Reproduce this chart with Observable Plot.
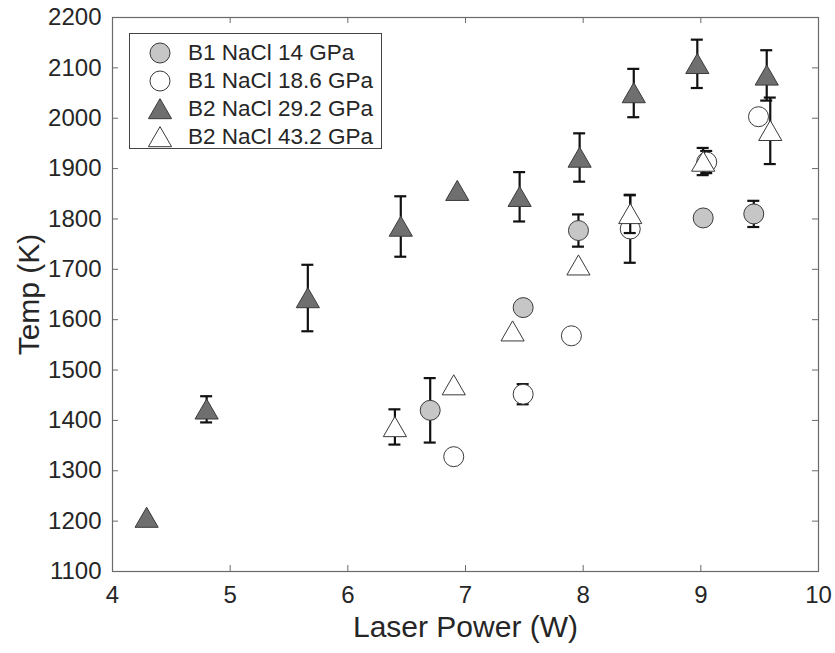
<!DOCTYPE html>
<html>
<head>
<meta charset="utf-8">
<script src="https://cdn.jsdelivr.net/npm/d3@7"></script>
<script src="https://cdn.jsdelivr.net/npm/@observablehq/plot@0.6"></script>
<style>
  body { margin: 0; background: #fff; }
  #chart { position: relative; width: 835px; height: 653px; font-family: "Liberation Sans", Arial, Helvetica, sans-serif; color: #262626; }
  #legend { position: absolute; left: 129px; top: 33px; width: 253px; height: 116px; box-sizing: border-box;
            border: 1px solid #444; background: #fff; padding-top: 5px; }
  .row { display: flex; align-items: center; height: 28px; font-size: 22.5px; white-space: nowrap; }
  .row svg { margin-left: 18px; margin-right: 16px; }
</style>
</head>
<body>
<div id="chart"></div>
<script>
// Laser heating runs: temperature (K) versus laser power (W), one series per sample/pressure.
const seriesNames = ["B1 NaCl 14 GPa", "B1 NaCl 18.6 GPa", "B2 NaCl 29.2 GPa", "B2 NaCl 43.2 GPa"];

// B1 NaCl 14 GPa (grey circles)
const b1_14_power = [6.70, 7.49, 7.96, 9.02, 9.45];
const b1_14_temp  = [1420, 1624, 1777, 1802, 1810];
const b1_14_err   = [64, 0, 32, 0, 26];

// B1 NaCl 18.6 GPa (open circles)
const b1_186_power = [6.90, 7.49, 7.90, 8.40, 9.05, 9.49];
const b1_186_temp  = [1328, 1452, 1568, 1780, 1913, 2003];
const b1_186_err   = [0, 20, 0, 67, 22, 0];

// B2 NaCl 29.2 GPa (dark triangles)
const b2_292_power = [4.29, 4.80, 5.66, 6.45, 6.93, 7.46, 7.97, 8.43, 8.97, 9.56];
const b2_292_temp  = [1207, 1422, 1643, 1785, 1856, 1844, 1922, 2050, 2108, 2085];
const b2_292_err   = [0, 26, 66, 60, 0, 49, 48, 48, 48, 50];

// B2 NaCl 43.2 GPa (open triangles)
const b2_432_power = [6.40, 6.90, 7.40, 7.96, 8.40, 9.02, 9.59];
const b2_432_temp  = [1387, 1470, 1577, 1708, 1810, 1914, 1975];
const b2_432_err   = [35, 0, 0, 0, 38, 27, 66];

const xTicks = [4, 5, 6, 7, 8, 9, 10];
const yTicks = [1100, 1200, 1300, 1400, 1500, 1600, 1700, 1800, 1900, 2000, 2100, 2200];

const styles = [
  {symbol: "circle",   r: 10,  fill: "#c6c6c6", dy: 0},
  {symbol: "circle",   r: 10,  fill: "#ffffff", dy: 0},
  {symbol: "triangle", r: 8.6, fill: "#6f6f6f", dy: 3},
  {symbol: "triangle", r: 8.6, fill: "#ffffff", dy: 3}
];

const rows = (power, temp, err) => power.map((p, i) => ({power: p, temp: temp[i], err: err[i]}));
const series = [
  rows(b1_14_power, b1_14_temp, b1_14_err),
  rows(b1_186_power, b1_186_temp, b1_186_err),
  rows(b2_292_power, b2_292_temp, b2_292_err),
  rows(b2_432_power, b2_432_temp, b2_432_err)
];

const ink = "#111";
const axisGrey = "#6a6a6a";

// each series: error bars with caps, then its markers on top
const seriesMarks = series.flatMap((data, k) => {
  const s = styles[k];
  const withErr = data.filter(d => d.err > 0);
  return [
    Plot.ruleX(withErr, {x: "power", y1: d => d.temp - d.err, y2: d => d.temp + d.err, stroke: ink, strokeWidth: 2.2}),
    Plot.ruleY(withErr, {y: d => d.temp - d.err, x1: "power", x2: "power", insetLeft: -6, insetRight: -6, stroke: ink, strokeWidth: 2.2}),
    Plot.ruleY(withErr, {y: d => d.temp + d.err, x1: "power", x2: "power", insetLeft: -6, insetRight: -6, stroke: ink, strokeWidth: 2.2}),
    Plot.dot(data, {x: "power", y: "temp", symbol: () => s.symbol, r: s.r, fill: s.fill, stroke: "#3a3a3a", strokeWidth: 1, dy: s.dy})
  ];
});

const chart = Plot.plot({
  width: 835,
  height: 653,
  marginLeft: 112,
  marginRight: 17,
  marginTop: 17,
  marginBottom: 82,
  style: {fontFamily: "'Liberation Sans', Arial, Helvetica, sans-serif", background: "#fff", color: "#262626"},
  symbol: {type: "identity"},
  x: {domain: [4, 10], ticks: xTicks},
  y: {domain: [1100, 2200], ticks: yTicks},
  marks: [
    // tick labels
    Plot.axisX({ticks: xTicks, tickSize: 0, tickPadding: 14, fontSize: 24, label: null, tickFormat: d => String(d)}),
    Plot.axisY({ticks: yTicks, tickSize: 0, tickPadding: 11, fontSize: 24, label: null, tickFormat: d => String(d)}),
    // inward tick marks on all four sides
    Plot.ruleY(yTicks, {y: d => d, insetRight: 700, stroke: axisGrey}),
    Plot.ruleY(yTicks, {y: d => d, insetLeft: 700, stroke: axisGrey}),
    Plot.ruleX(xTicks, {x: d => d, insetTop: 548, stroke: axisGrey}),
    Plot.ruleX(xTicks, {x: d => d, insetBottom: 548, stroke: axisGrey}),
    Plot.frame({stroke: axisGrey, strokeWidth: 1.2}),
    ...seriesMarks,
    // axis titles
    Plot.text(["Laser Power (W)"], {frameAnchor: "bottom", dy: 65, fontSize: 30, textAnchor: "middle", fill: "#262626"}),
    Plot.text(["Temp (K)"], {frameAnchor: "left", dx: -83, rotate: -90, fontSize: 30, textAnchor: "middle", fill: "#262626"})
  ]
});

const root = document.getElementById("chart");
root.appendChild(chart);

// legend box inside the axes, upper left
const legend = document.createElement("div");
legend.id = "legend";
seriesNames.forEach((name, k) => {
  const s = styles[k];
  const row = document.createElement("div");
  row.className = "row";
  const shape = s.symbol === "circle"
    ? `<circle cx="12" cy="12" r="${s.r}" fill="${s.fill}" stroke="#3a3a3a" stroke-width="1"/>`
    : `<path transform="translate(12,${12 + s.dy})" d="${d3.symbol(d3.symbolTriangle, Math.PI * s.r * s.r)()}" fill="${s.fill}" stroke="#3a3a3a" stroke-width="1"/>`;
  row.innerHTML = `<svg width="24" height="24">${shape}</svg><span>${name}</span>`;
  legend.appendChild(row);
});
root.appendChild(legend);
</script>
</body>
</html>
